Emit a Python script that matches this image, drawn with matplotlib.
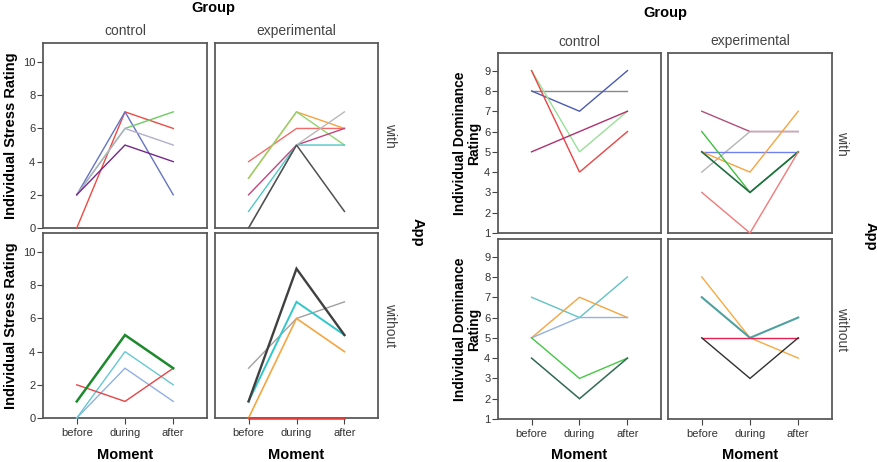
import matplotlib
matplotlib.use("Agg")
import matplotlib.pyplot as plt

plt.rcParams['font.family'] = ['Liberation Sans', 'DejaVu Sans']

W, H = 877, 462
moments = ["before", "during", "after"]
groups = ["control", "experimental"]
apps = ["with", "without"]

# ---------------- data: Individual Stress Rating ----------------
stress_control_with = [[0, 7, 6], [2, 7, 2], [2, 6, 7], [2, 6, 5], [2, 5, 4]]
stress_experimental_with = [[4, 6, 6], [3, 7, 6], [3, 7, 5], [2, 5, 6], [1, 5, 5], [0, 5, 7], [0, 5, 1]]
stress_control_without = [[0, 3, 1], [0, 4, 2], [2, 1, 3], [1, 5, 3]]
stress_experimental_without = [[3, 6, 7], [0, 6, 4], [1, 7, 5], [1, 9, 5], [0, 0, 0]]

# ---------------- data: Individual Dominance Rating ----------------
dom_control_with = [[8, 8, 8], [8, 7, 9], [9, 5, 7], [9, 4, 6], [5, 6, 7]]
dom_experimental_with = [[7, 6, 6], [4, 6, 6], [5, 5, 5], [5, 4, 7], [6, 3, 5], [5, 3, 5], [3, 1, 5]]
dom_control_without = [[7, 6, 8], [5, 7, 6], [5, 6, 6], [5, 3, 4], [4, 2, 4]]
dom_experimental_without = [[8, 5, 4], [7, 5, 6], [5, 5, 5], [5, 3, 5]]

# ---------------- styles (colour, width) ----------------
sty_stress_cw = [("#ee4a42", 1.0), ("#6474c4", 1.0), ("#6ccc60", 1.0), ("#b4aecb", 1.0), ("#74288a", 1.0)]
sty_stress_ew = [("#f26a6a", 1.0), ("#f5a340", 1.0), ("#90d46e", 1.0), ("#c2467e", 1.0), ("#4ec8c8", 1.0), ("#b8b8b8", 1.0), ("#505050", 1.1)]
sty_stress_cwo = [("#90b0e2", 1.0), ("#66c8d4", 1.0), ("#e84444", 1.0), ("#1c8a2c", 1.8)]
sty_stress_ewo = [("#a0a0a0", 1.0), ("#f5a640", 1.2), ("#30c8c8", 1.4), ("#404040", 1.7), ("#e03a3a", 1.8)]
sty_dom_cw = [("#888888", 1.0), ("#4a5ab2", 1.0), ("#98e098", 1.0), ("#ea4444", 1.0), ("#b03070", 1.0)]
sty_dom_ew = [("#b0507a", 1.0), ("#b4b4b4", 1.0), ("#7080f0", 1.0), ("#f5a440", 1.0), ("#40c040", 1.0), ("#206e40", 1.2), ("#f27a7a", 1.0)]
sty_dom_cwo = [("#62c2c4", 1.0), ("#f5a440", 1.0), ("#94b2e0", 1.0), ("#44c844", 1.0), ("#306a52", 1.1)]
sty_dom_ewo = [("#f5aa44", 1.0), ("#50a0a0", 1.5), ("#e82050", 1.0), ("#303030", 1.0)]

fig = plt.figure(figsize=(W / 100, H / 100), dpi=100)


def add_ax(x0, y0, x1, y1):
    return fig.add_axes([x0 / W, 1 - y1 / H, (x1 - x0) / W, (y1 - y0) / H])


def fig_text(x, y, s, **kw):
    fig.text(x / W, 1 - y / H, s, **kw)


def panel(ax, series, styles, ylim, yticks, show_y, show_x):
    xs = list(range(len(moments)))
    for vals, (c, lw) in zip(series, styles):
        ax.plot(xs, vals, color=c, lw=lw, solid_joinstyle='miter', clip_on=False, zorder=3)
    ax.set_xlim(-0.7, 2.7)
    ax.set_ylim(*ylim)
    for sp in ax.spines.values():
        sp.set_color("#5a5a5a")
        sp.set_linewidth(1.3)
        sp.set_zorder(2.5)
    ax.set_yticks(yticks)
    ax.set_xticks(xs)
    ax.tick_params(axis='both', direction='out', length=4, width=0.8, color="#444444",
                   labelsize=8, labelcolor="#333333", pad=1.5)
    if show_y:
        ax.set_yticklabels([str(t) for t in yticks])
    else:
        ax.tick_params(axis='y', left=False, labelleft=False)
    if show_x:
        ax.set_xticklabels(moments)
        ax.tick_params(axis='x', pad=3)
    else:
        ax.tick_params(axis='x', bottom=False, labelbottom=False)


# ---------------- left chart: stress ----------------
s_ylim = (0, 11.15)
s_ticks = [0, 2, 4, 6, 8, 10]
lx = [(43, 207), (215, 378)]
ly = [(43, 228), (233, 418)]
stress = [[stress_control_with, stress_experimental_with],
          [stress_control_without, stress_experimental_without]]
s_sty = [[sty_stress_cw, sty_stress_ew], [sty_stress_cwo, sty_stress_ewo]]
for r in range(2):
    for c in range(2):
        ax = add_ax(lx[c][0], ly[r][0], lx[c][1], ly[r][1])
        panel(ax, stress[r][c], s_sty[r][c], s_ylim, s_ticks, c == 0, r == 1)

for c in range(2):
    cx = (lx[c][0] + lx[c][1]) / 2
    fig_text(cx, 31, groups[c], ha='center', va='center', fontsize=10, color="#444444")
    fig_text(cx, 455, "Moment", ha='center', va='center', fontsize=10.5, fontweight='bold')
for r in range(2):
    cy = (ly[r][0] + ly[r][1]) / 2
    fig_text(390, cy, apps[r], ha='center', va='center', rotation=270, fontsize=10, color="#444444")
    fig_text(11, cy, "Individual Stress Rating", ha='center', va='center', rotation=90,
             fontsize=10.5, fontweight='bold')
fig_text(213, 1, "Group", ha='center', va='top', fontsize=10.5, fontweight='bold')
fig_text(418, 232, "App", ha='center', va='center', rotation=270, fontsize=10.5, fontweight='bold')

# ---------------- right chart: dominance ----------------
d_ylim = (1, 9.87)
d_ticks = [1, 2, 3, 4, 5, 6, 7, 8, 9]
rx = [(498, 661), (668, 832)]
ry = [(53, 233), (239, 419)]
dom = [[dom_control_with, dom_experimental_with],
       [dom_control_without, dom_experimental_without]]
d_sty = [[sty_dom_cw, sty_dom_ew], [sty_dom_cwo, sty_dom_ewo]]
for r in range(2):
    for c in range(2):
        ax = add_ax(rx[c][0], ry[r][0], rx[c][1], ry[r][1])
        panel(ax, dom[r][c], d_sty[r][c], d_ylim, d_ticks, c == 0, r == 1)

for c in range(2):
    cx = (rx[c][0] + rx[c][1]) / 2
    fig_text(cx, 41.5, groups[c], ha='center', va='center', fontsize=10, color="#444444")
    fig_text(cx, 455, "Moment", ha='center', va='center', fontsize=10.5, fontweight='bold')
for r in range(2):
    cy = (ry[r][0] + ry[r][1]) / 2
    fig_text(842, cy, apps[r], ha='center', va='center', rotation=270, fontsize=10, color="#444444")
    fig_text(467, cy, "Individual Dominance\nRating", ha='center', va='center', rotation=90,
             fontsize=10, fontweight='bold', linespacing=0.95)
fig_text(665, 12.5, "Group", ha='center', va='center', fontsize=10.5, fontweight='bold')
fig_text(871, 236, "App", ha='center', va='center', rotation=270, fontsize=10.5, fontweight='bold')

fig.savefig("out.png", dpi=100, facecolor="white")
